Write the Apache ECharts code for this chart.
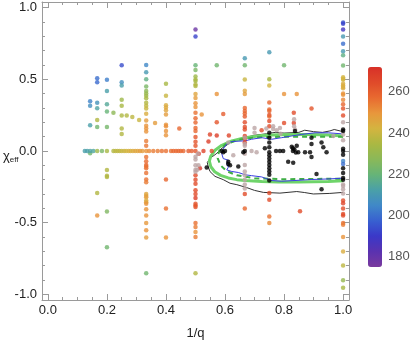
<!DOCTYPE html>
<html><head><meta charset="utf-8">
<script src="https://cdn.jsdelivr.net/npm/echarts@6/dist/echarts.min.js"></script>
<style>html,body{margin:0;padding:0;background:#fff}#c{width:415px;height:345px}</style>
</head><body><div id="c"></div>
<script>
// ---------- tick values ----------
const xMajor = [0, 0.2, 0.4, 0.6, 0.8, 1.0];
const xMinor = [0,0.05,0.1,0.15,0.2,0.25,0.3,0.35,0.4,0.45,0.5,0.55,0.6,0.65,0.7,0.75,0.8,0.85,0.9,0.95,1.0];
const yMajor = [-1.0, -0.5, 0, 0.5, 1.0];
const yMinor = [-1,-0.9,-0.8,-0.7,-0.6,-0.5,-0.4,-0.3,-0.2,-0.1,0,0.1,0.2,0.3,0.4,0.5,0.6,0.7,0.8,0.9,1];
const cbTicks = [180, 200, 220, 240, 260];

// ---------- coloured points [x, chi_eff, value] ----------
const leftPts = [
 [0.143,0.348,204],[0.143,0.316,207],[0.143,0.179,212],[0.143,-0.015,222],
 [0.167,0.508,200],[0.167,0.479,199],[0.167,0.337,208],[0.167,0.298,213],[0.167,0.217,236],[0.167,0.168,222],[0.167,-0.294,236],[0.167,-0.451,250],
 [0.2,0.497,203],[0.2,0.418,212],[0.2,0.326,215],[0.2,0.276,220],[0.2,0.168,223],[0.2,-0.132,236],[0.2,-0.172,236],[0.2,-0.181,236],[0.2,-0.422,225],[0.2,-0.672,222],
 [0.222,0.267,228],
 [0.25,0.598,194],[0.25,0.479,207],[0.25,0.458,212],[0.25,0.357,232],[0.25,0.316,234],[0.25,0.247,235],[0.25,0.157,236],[0.25,0.118,236],
 [0.267,0.247,236],[0.286,0.238,238],[0.309,0.217,240],[0.363,0.195,248],[0.445,0.157,258]
];
const rowZeroPts = [
 [0.125,0,212],[0.133,0,212],[0.143,0,213],[0.154,0,214],[0.167,0,232],[0.183,0,224],[0.2,0,234],[0.222,0,236],[0.229,0,238],[0.236,0,238],[0.243,0,238],[0.25,0,240],[0.258,0,240],[0.265,0,242],[0.273,0,242],[0.28,0,244],[0.288,0,244],[0.296,0,246],[0.304,0,246],[0.312,0,248],[0.32,0,248],[0.343,0,252],[0.357,0,254],[0.372,0,254],[0.386,0,256],[0.417,0,256],[0.425,0,258],[0.434,0,258],[0.442,0,258],[0.45,0,258],[0.459,0,258],[0.476,0,260],[0.487,0,260],[0.527,0,266],[0.555,0,264]
];
const thirdX = 0.333;
const thirdPts = [
 [0.60,205],[0.55,210],[0.50,218],[0.45,224],[0.418,228],[0.402,230],[0.386,232],[0.368,234],[0.337,236],[0.316,238],[0.296,240],[0.26,244],[0.213,248],[0.177,250],[0.157,250],[0.136,250],[0.069,254],[0.037,255],[0,250],
 [-0.042,256],[-0.071,257],[-0.098,258],[-0.109,256],[-0.12,256],[-0.154,256],[-0.199,256],[-0.218,254],[-0.30,246],[-0.312,246],[-0.323,248],[-0.346,244],[-0.357,246],[-0.368,250],[-0.407,250],[-0.451,250],[-0.503,249],[-0.553,250],[-0.603,248],[-0.853,222]
];
const fortyX = 0.4;
const fortyPts = [
 [0.47,234],[0.386,240],[0.319,244],[0.303,245],[0.285,246],[0.255,248],[0.184,250],[0.172,251],[0.139,250],[0.11,250],[0,256],[-0.199,258],[-0.402,256],[-0.603,250]
];
const halfX = 0.5;
const halfPts = [
 [0.848,178],[0.799,192],[0.598,220],[0.566,224],[0.52,232],[0.499,234],[0.488,234],[0.465,236],[0.454,236],[0.397,246],[0.37,248],[0.334,250],[0.307,250],[0.267,256],[0.228,258],[0.199,258],[0.161,258],[0.139,258],[0.098,262],[0.064,262],[0.037,262],[0,262],
 [-0.17,264],[-0.2,264],[-0.228,264],[-0.274,264],[-0.30,264],[-0.328,268],[-0.368,262],[-0.38,262],[-0.39,262],[-0.503,256],[-0.53,254],[-0.566,250],[-0.6,254],[-0.853,236]
];
const rightPts = [
 [0.511,-0.019,268],[0.515,-0.12,270],[0.521,0.255,250],[0.544,0.066,268],[0.549,0.116,266],[0.572,0.598,222],[0.572,0.397,250],[0.572,0.2,262],[0.572,0.109,268],[0.594,0.258,260],[0.613,0.109,266],
 [0.724,0.145,264],[0.8,0.598,222],[0.8,0.397,250],[0.8,0.195,264],[0.833,0.267,264],[0.833,0.195,266],[0.843,0.397,250],[0.854,-0.42,264],[0.893,0.296,262]
];
const twoThirdX = 0.667;
const twoThirdPts = [
 [0.647,210],[0.598,222],[0.499,240],[0.42,246],[0.397,248],[0.30,258],[0.28,258],[0.262,258],[0.24,260],[0.2,264],[0.168,264],[0.15,264],[0.105,266],[0.086,266],[0.059,268],[-0.301,264],[-0.402,258]
];
const threeQX = 0.75;
const threeQPts = [
 [0.69,210],[0.5,234],[0.458,242],[0.339,258],[0.289,258],[0.28,258],[0.251,264],[0.24,258],[0.21,264],[0.172,264],[-0.294,264],[-0.341,264],[-0.458,256],[-0.503,252]
];
const unitX = 1.0;
const unitPts = [
 [0.897,195],[0.889,192],[0.848,188],[0.799,210],[0.749,200],[0.697,210],[0.668,218],[0.596,222],[0.515,242],[0.505,242],[0.497,242],[0.47,244],[0.458,244],[0.447,244],[0.438,244],[0.402,250],[0.393,250],[0.357,252],[0.326,258],[0.296,262],[0.247,264],
 [-0.069,204],[-0.09,200],[-0.346,264],[-0.364,266],[-0.402,264],[-0.44,264],[-0.451,264],[-0.503,256],[-0.515,254],[-0.6,250],[-0.701,244],[-0.8,238],[-0.902,230],[-0.954,234]
];

// ---------- grey points [x, chi_eff] ----------
const grayPts = [
 [0.5,-0.04],[0.5,-0.06],[0.5,-0.1],[0.5,-0.13],[0.5,-0.145],[0.508,-0.02],[0.51,-0.1],[0.506,-0.13],
 [0.611,0.06],[0.667,0.093],[0.667,0.049],[0.667,0.037],[0.667,-0.02],[0.667,-0.098],[0.667,-0.143],[0.667,-0.17],[0.667,-0.2],[0.667,-0.233],[0.667,-0.262],[0.628,-0.03],[0.69,0],[0.7,0.127],[0.7,0.16],[0.707,-0.008],
 [0.74,0.157],[0.763,0.154],[0.775,0.145],[0.788,0.12],[0.786,0.16],[0.763,0.172],[0.834,0.222],[0.834,0.172],[0.837,0.15],[0.967,0.105],
 [1,0.2],[1,0.116],[1,0.075],[1,-0.233],[1,-0.245],[1,-0.267],[1,-0.296]
];
// ---------- black points ----------
const blackPts = [
 [0.538,-0.116],[0.589,0],[0.594,-0.008],[0.6,0],[0.611,-0.075],[0.611,-0.09],[0.617,-0.1],[0.645,-0.109],[0.662,-0.008],[0.667,0],
 [0.75,0.127],[0.75,0.093],[0.75,0.059],[0.75,0.026],[0.75,-0.008],[0.75,-0.03],[0.75,-0.053],[0.75,-0.075],[0.75,-0.098],[0.75,-0.12],[0.75,-0.143],[0.75,-0.166],[0.75,-0.206],
 [0.735,0.019],[0.773,0],[0.786,0],[0.797,0],[0.814,-0.075],[0.83,0.0],[0.83,0.02],[0.826,0.03],[0.835,0.01],[0.84,-0.01],[0.831,-0.082],[0.837,0.139],[0.843,0.037],[0.848,-0.008],[0.871,-0.008],[0.888,-0.008],
 [0.893,0.093],[0.893,0.049],[0.893,-0.042],[0.91,-0.16],[0.927,0.06],[0.933,0.026],[0.927,-0.267],[0.944,-0.008],
 [1,0.15],[1,0.139],[1,0.015],[1,0],[1,-0.026],[1,-0.12],[1,-0.154],[1,-0.188],[1,-0.2]
];

// ---------- contours ----------
const greenContour = [
 [1.0,0.105],[0.95,0.111],[0.893,0.116],[0.837,0.116],[0.78,0.113],[0.724,0.108],[0.668,0.093],[0.623,0.07],[0.589,0.04],[0.566,0.005],[0.552,-0.035],[0.547,-0.07],[0.552,-0.11],[0.565,-0.145],[0.585,-0.17],[0.611,-0.188],[0.64,-0.2],[0.668,-0.206],[0.724,-0.213],[0.78,-0.216],[0.85,-0.216],[0.95,-0.213],[1.0,-0.207]
];
const greenDashContour = [
 [1.0,0.1],[0.8,0.1],[0.7,0.095],[0.64,0.075],[0.6,0.045],[0.58,0.0],[0.575,-0.05],[0.585,-0.1],[0.605,-0.14],[0.64,-0.17],[0.7,-0.19],[0.8,-0.197],[1.0,-0.193]
];
const blueContour = [
 [0.995,0.12],[0.95,0.127],[0.905,0.127],[0.86,0.116],[0.826,0.105],[0.792,0.093],[0.758,0.082],[0.724,0.093],[0.69,0.082],[0.668,0.071],[0.623,0.066],[0.606,0.049],[0.594,0.015],[0.589,-0.019],[0.594,-0.053],[0.611,-0.064],[0.606,-0.086],[0.611,-0.114],[0.606,-0.132],[0.623,-0.143],[0.645,-0.15],[0.668,-0.166],[0.69,-0.172],[0.724,-0.181],[0.758,-0.206],[0.792,-0.211],[0.837,-0.206],[0.893,-0.199],[0.95,-0.195],[0.995,-0.19]
];
const blackContour = [
 [1.0,0.135],[0.97,0.15],[0.955,0.14],[0.93,0.13],[0.9,0.135],[0.87,0.145],[0.85,0.13],[0.8,0.125],[0.77,0.13],[0.74,0.12],[0.7,0.11],[0.66,0.09],[0.62,0.06],[0.59,0.02],[0.57,-0.02],[0.55,-0.05],[0.54,-0.08],[0.543,-0.11],[0.549,-0.143],[0.566,-0.177],[0.594,-0.2],[0.617,-0.225],[0.64,-0.235],[0.673,-0.255],[0.7,-0.275],[0.73,-0.289],[0.786,-0.294],[0.843,-0.283],[0.87,-0.29],[0.899,-0.3],[0.955,-0.296],[1.0,-0.289]
];

// ---------- build ----------
const colData = []
  .concat(leftPts, rowZeroPts, rightPts)
  .concat(thirdPts.map(p => [thirdX, p[0], p[1]]))
  .concat(fortyPts.map(p => [fortyX, p[0], p[1]]))
  .concat(halfPts.map(p => [halfX, p[0], p[1]]))
  .concat(twoThirdPts.map(p => [twoThirdX, p[0], p[1]]))
  .concat(threeQPts.map(p => [threeQX, p[0], p[1]]))
  .concat(unitPts.map(p => [unitX, p[0], p[1]]));

const AX = '#9a9a9a';
const FONT = 'Liberation Sans, Arial, sans-serif';
function xAx(pos, vals, len, line, labels) {
  return {type:'value', min:-0.02, max:1.02, position:pos, gridIndex:0,
    axisLine:{show:line, onZero:false, lineStyle:{color:AX, width:1}},
    axisTick:{show:true, inside:true, length:len, customValues:vals, lineStyle:{color:AX}},
    axisLabel:{show:labels, customValues:vals, formatter:v=>v.toFixed(1), color:'#222', fontSize:13, fontFamily:FONT, margin:4},
    splitLine:{show:false}};
}
function yAx(pos, vals, len, line, labels) {
  return {type:'value', min:-1.04, max:1.04, position:pos, gridIndex:0,
    axisLine:{show:line, onZero:false, lineStyle:{color:AX, width:1}},
    axisTick:{show:true, inside:true, length:len, customValues:vals, lineStyle:{color:AX}},
    axisLabel:{show:labels, customValues:vals, formatter:v=>v.toFixed(1), color:'#222', fontSize:13, fontFamily:FONT, margin:5},
    splitLine:{show:false}};
}
const xb = xAx('bottom', xMajor, 6, true, true);
xb.name = '1/q'; xb.nameLocation = 'middle'; xb.nameGap = 27;
xb.nameTextStyle = {color:'#222', fontSize:13, fontFamily:FONT};

const chart = echarts.init(document.getElementById('c'), null, {renderer:'canvas'});
chart.setOption({
  animation:false,
  backgroundColor:'#fff',
  grid:[
    {left:42, right:66, top:2, bottom:36},
    {left:368, top:67, width:14, height:200}
  ],
  xAxis:[ xb, xAx('bottom', xMinor, 3, false, false), xAx('top', xMajor, 6, true, false), xAx('top', xMinor, 3, false, false),
    {type:'value', gridIndex:1, show:false, min:0, max:1} ],
  yAxis:[ yAx('left', yMajor, 6, true, true), yAx('left', yMinor, 3, false, false), yAx('right', yMajor, 6, true, false), yAx('right', yMinor, 3, false, false),
    {type:'value', gridIndex:1, min:175, max:272, position:'right',
     axisLine:{show:false}, axisTick:{show:false, customValues:cbTicks}, splitLine:{show:false},
     axisLabel:{customValues:cbTicks, color:'#555', fontSize:13, fontFamily:FONT, margin:6}} ],
  visualMap:{type:'continuous', min:175, max:272, dimension:2, seriesIndex:[4],
    left:368, top:67, itemWidth:14, itemHeight:200, padding:0, text:['',''], calculable:false, hoverLink:false,
    inRange:{color:['#7a3a9e','#5a32b0','#3a38c8','#3860d0','#4088c8','#4aa0a8','#66b478','#8ab858','#aab842','#d4b440','#e8963c','#e86a30','#e04a2a','#d83028']}},
  graphic:[{type:'text', left:3, top:150, style:{text:'{a|χ}{b|eff}', rich:{a:{fontSize:13, fontFamily:FONT, fill:'#222'}, b:{fontSize:8, fontFamily:FONT, fill:'#222', padding:[7,0,0,0]}}}}],
  series:[
    {type:'line', data:blackContour, showSymbol:false, lineStyle:{color:'#333', width:1}, z:2},
    {type:'line', data:greenContour, showSymbol:false, lineStyle:{color:'#6fd46a', width:3}, z:2},
    {type:'line', data:greenDashContour, showSymbol:false, lineStyle:{color:'#3fae45', width:2, type:[5,4]}, z:2},
    {type:'line', data:blueContour, showSymbol:false, lineStyle:{color:'#3a3ee0', width:1}, z:2},
    {type:'scatter', data:colData, symbolSize:4.5, z:3},
    {type:'scatter', data:grayPts, symbolSize:4.5, itemStyle:{color:'#bba5a5'}, z:3},
    {type:'scatter', data:blackPts, symbolSize:4.5, itemStyle:{color:'#000'}, z:4}
  ]
});
</script></body></html>
